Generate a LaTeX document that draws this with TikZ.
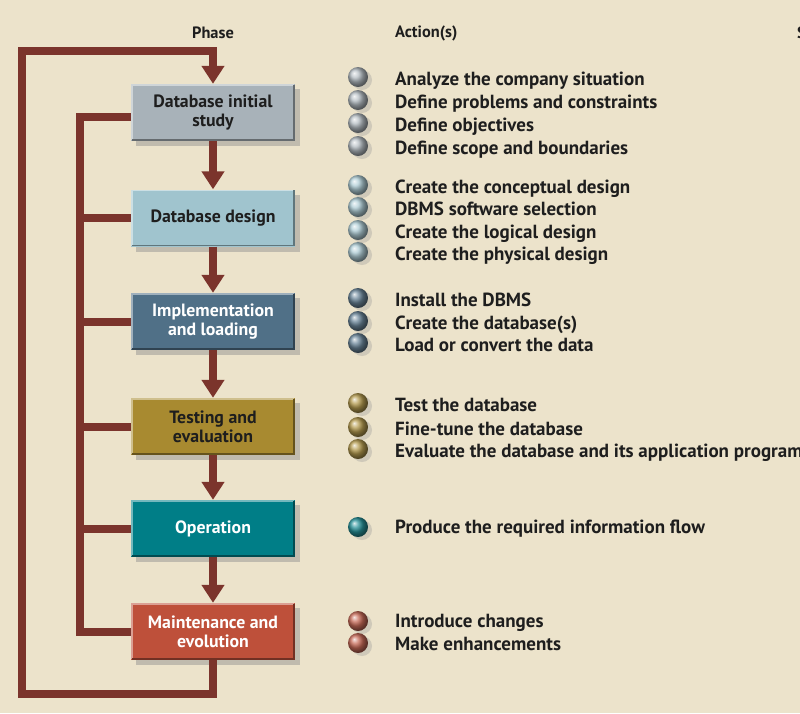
\documentclass[tikz,border=0pt]{standalone}
\usepackage{fontspec}
\setmainfont{PT Sans}
\usetikzlibrary{arrows.meta,shadows,calc}
\definecolor{bg}{RGB}{236,227,203}
\definecolor{flowc}{RGB}{123,52,44}
\definecolor{cA}{RGB}{168,178,185}
\definecolor{cB}{RGB}{160,196,206}
\definecolor{cC}{RGB}{80,112,135}
\definecolor{cD}{RGB}{168,138,48}
\definecolor{cE}{RGB}{0,126,135}
\definecolor{cF}{RGB}{190,80,58}
\definecolor{txt}{RGB}{30,30,30}
\tikzset{
  phasebox/.style={minimum width=164pt, minimum height=57pt, inner sep=0pt, align=center,
    font=\bfseries\fontsize{17.8}{19}\selectfont, text=txt,
    drop shadow={shadow xshift=5pt, shadow yshift=-5pt, fill=black!45, opacity=.45}},
  flow/.style={draw=flowc, line width=8pt, line join=miter},
  flowarrow/.style={flow, -{Triangle[width=22pt,length=18pt]}},
  act/.style={anchor=base west, inner sep=0pt, text=txt, font=\bfseries\fontsize{19}{21}\selectfont},
  head/.style={inner sep=0pt, text=txt, font=\bfseries\fontsize{16.4}{18}\selectfont},
}
\newcommand{\bullball}[3]{%
  \fill[black!40, opacity=.35] (#1+4,#2+3) circle (10pt);
  \shade[ball color=#3!85!white] (#1,#2) circle (10pt);}
\newcommand{\bevel}[2]{%
  \draw[#2!55!white, line width=1.5pt] ($(#1.south west)+(1,-1)$) -- ($(#1.north west)+(1,1)$) -- ($(#1.north east)+(-1,1)$);
  \draw[#2!60!black, line width=1.5pt] ($(#1.north east)+(-1,1)$) -- ($(#1.south east)+(-1,-1)$) -- ($(#1.south west)+(1,-1)$);}
\begin{document}
\begin{tikzpicture}[x=1pt,y=-1pt]
\useasboundingbox (0,0) rectangle (800,713);
\clip (0,0) rectangle (800,713);
\fill[bg] (0,0) rectangle (800,713);

% headers
\node[head] (hphase) at (213,33) {Phase};
\node[head, anchor=west] (hact) at (395,33) {Action(s)};
\node[head, anchor=west] (hs) at (797,33) {S};

% phase boxes
\node[phasebox, fill=cA] (b1) at (213,112.5) {Database initial\\study};
\node[phasebox, fill=cB] (b2) at (213,218) {Database design};
\node[phasebox, fill=cC, text=white] (b3) at (213,321.5) {Implementation\\and loading};
\node[phasebox, fill=cD] (b4) at (213,426.5) {Testing and\\evaluation};
\node[phasebox, fill=cE, text=white] (b5) at (213,528.5) {Operation};
\node[phasebox, fill=cF, text=white] (b6) at (213,631.5) {Maintenance and\\evolution};
\bevel{b1}{cA}\bevel{b2}{cB}\bevel{b3}{cC}\bevel{b4}{cD}\bevel{b5}{cE}\bevel{b6}{cF}

% flow arrows
\draw[flowarrow] (b1.south) -- (b2.north);
\draw[flowarrow] (b2.south) -- (b3.north);
\draw[flowarrow] (b3.south) -- (b4.north);
\draw[flowarrow] (b4.south) -- (b5.north);
\draw[flowarrow] (b5.south) -- (b6.north);

% outer loop
\coordinate (obl) at (21.5,693.5);
\coordinate (otl) at (21.5,51);
\draw[flowarrow] (b6.south) -- (b6.south |- obl) -- (obl) -- (otl) -- (otl -| b1.north) -- (b1.north);

% inner comb
\coordinate (ct) at (80,116.5);
\coordinate (cb) at (80,631.5);
\draw[flow] ($(b1.west)+(0,4)$) -- (ct) -- (cb) -- (b6.west);
\draw[flow] (b2.west -| ct) -- (b2.west);
\draw[flow] (b3.west -| ct) -- (b3.west);
\draw[flow] (b4.west -| ct) -- (b4.west);
\draw[flow] (b5.west -| ct) -- (b5.west);

% bullets
\bullball{358}{77}{cA}\bullball{358}{100}{cA}\bullball{358}{123}{cA}\bullball{358}{146}{cA}
\bullball{358}{185}{cB}\bullball{358}{207}{cB}\bullball{358}{230}{cB}\bullball{358}{252}{cB}
\bullball{358}{298}{cC}\bullball{358}{321}{cC}\bullball{358}{343}{cC}
\bullball{358}{403}{cD}\bullball{358}{427}{cD}\bullball{358}{449}{cD}
\bullball{358}{527}{cE}
\bullball{358}{621}{cF}\bullball{358}{643}{cF}

% actions
\node[act] (a11) at (395,85.5) {Analyze the company situation};
\node[act] (a12) at (395,108.5) {Define problems and constraints};
\node[act] (a13) at (395,131.5) {Define objectives};
\node[act] (a14) at (395,154.5) {Define scope and boundaries};
\node[act] (a21) at (395,193.5) {Create the conceptual design};
\node[act] (a22) at (395,215.5) {DBMS software selection};
\node[act] (a23) at (395,238.5) {Create the logical design};
\node[act] (a24) at (395,260.5) {Create the physical design};
\node[act] (a31) at (395,306.5) {Install the DBMS};
\node[act] (a32) at (395,329.5) {Create the database(s)};
\node[act] (a33) at (395,351.5) {Load or convert the data};
\node[act] (a41) at (395,411.5) {Test the database};
\node[act] (a42) at (395,435.5) {Fine-tune the database};
\node[act] (a43) at (395,457.5) {Evaluate the database and its application programs};
\node[act] (a51) at (395,533) {Produce the required information flow};
\node[act] (a61) at (395,627.5) {Introduce changes};
\node[act] (a62) at (395,650.5) {Make enhancements};
\end{tikzpicture}
\end{document}
